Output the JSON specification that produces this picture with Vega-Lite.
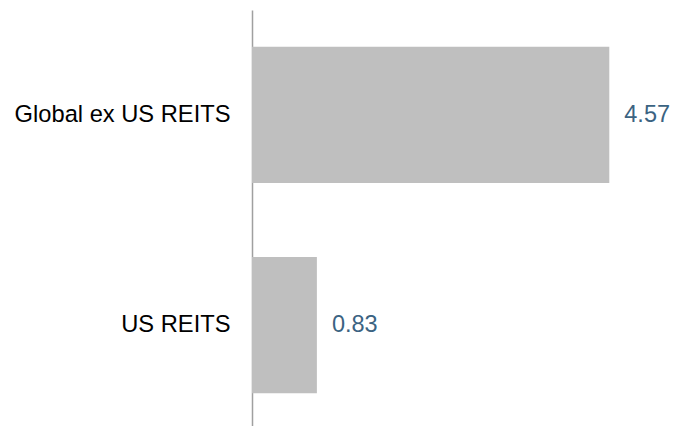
{
  "$schema": "https://vega.github.io/schema/vega-lite/v6.json",
  "autosize": {"type": "none"},
  "padding": {"left": 252, "top": 10, "right": 0, "bottom": 0},
  "width": 429,
  "height": 420,
  "background": "white",
  "config": {"view": {"stroke": null}, "font": "Liberation Sans"},
  "data": {"values": [
    {"category": "Global ex US REITS", "value": 4.57},
    {"category": "US REITS", "value": 0.83}
  ]},
  "encoding": {
    "y": {"field": "category", "type": "nominal", "sort": null,
      "scale": {"paddingInner": 0.352, "paddingOuter": 0.175},
      "axis": {"title": null, "ticks": false, "grid": false, "labelPadding": 22, "labelLimit": 0,
        "labelFontSize": 23.7, "labelColor": "#000000", "labelFont": "Liberation Sans",
        "domainColor": "#a0a0a0", "domainWidth": 1.5}},
    "x": {"field": "value", "type": "quantitative",
      "scale": {"domain": [0, 5.487], "nice": false, "zero": true},
      "axis": null}
  },
  "layer": [
    {"mark": {"type": "bar", "color": "#bfbfbf"}},
    {"mark": {"type": "text", "align": "left", "baseline": "middle", "dx": 15, "fontSize": 23.5, "color": "#3b6382", "font": "Liberation Sans"},
     "encoding": {"text": {"field": "value", "type": "quantitative", "format": ".2f"}}}
  ]
}
